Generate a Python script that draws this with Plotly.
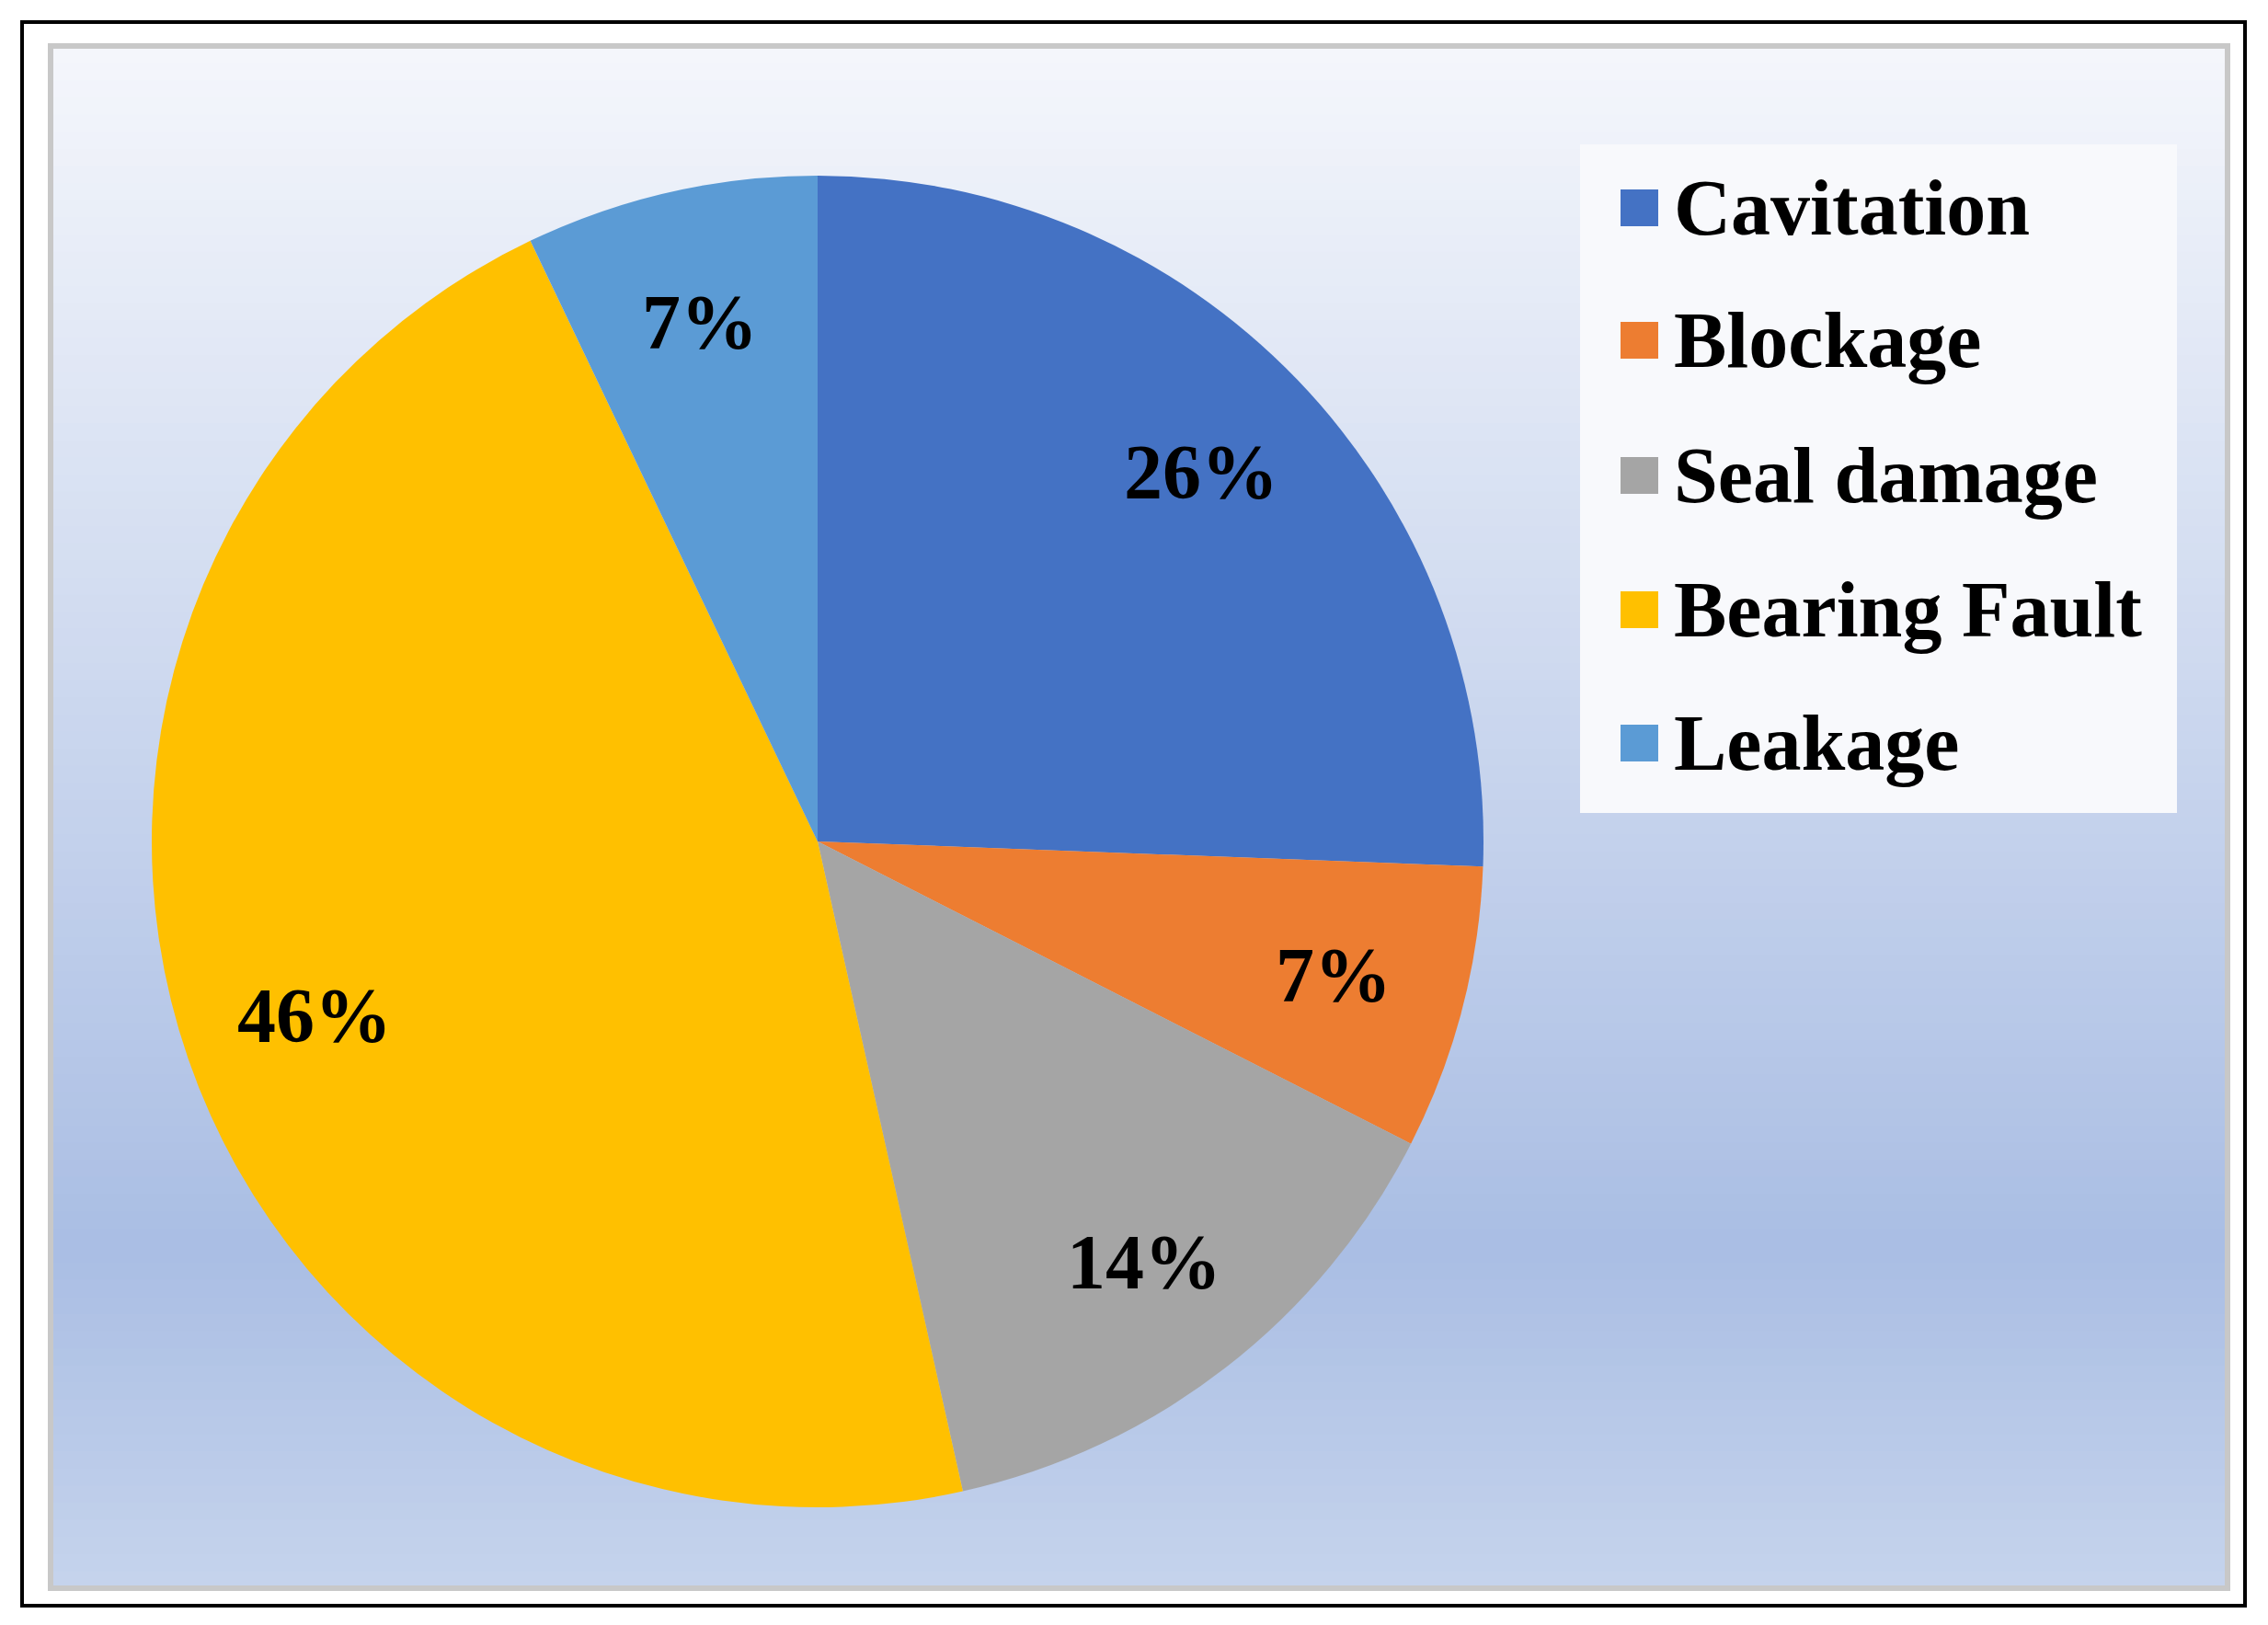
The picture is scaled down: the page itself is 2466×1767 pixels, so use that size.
import math
import plotly.graph_objects as go

labels = ["Cavitation", "Blockage", "Seal damage", "Bearing Fault", "Leakage"]
values = [25.6, 6.9, 14.0, 46.4, 7.1]
pct_text = ["26%", "7%", "14%", "46%", "7%"]
colors = ["#4472c4", "#ed7d31", "#a5a5a5", "#ffc000", "#5b9bd5"]

W, H = 2466, 1767
font = "Liberation Serif"
S = 8  # offset correction

cx, cy, R = 889 - S, 915 - S, 724
fig = go.Figure(go.Pie(
    labels=labels, values=values, sort=False, direction="clockwise", rotation=0,
    marker=dict(colors=colors, line=dict(width=0)),
    textinfo="none",
    domain=dict(x=[(cx - R) / W, (cx + R) / W], y=[1 - (cy + R) / H, 1 - (cy - R) / H]),
    showlegend=False,
))

shapes = []
shapes.append(dict(type="rect", xref="paper", yref="paper", x0=(24-S)/W, x1=(2441-S)/W, y0=1-(1746-S)/H, y1=1-(24-S)/H,
                   line=dict(color="black", width=4), fillcolor="white", layer="below"))
x0, x1, ytop, ybot = 55 - S, 2422 - S, 50 - S, 1727 - S
def lerp(a, b, t):
    return tuple(int(a[i] + (b[i]-a[i])*t) for i in range(3))
top, mid, bot = (245, 247, 252), (170, 190, 228), (198, 212, 237)
n = 90
for i in range(n):
    ya = ytop + (ybot-ytop)*i/n
    yb = ytop + (ybot-ytop)*(i+1)/n + 1
    t = (i+0.5)/n
    c = lerp(top, mid, t/0.78) if t < 0.78 else lerp(mid, bot, (t-0.78)/0.22)
    shapes.append(dict(type="rect", xref="paper", yref="paper", x0=x0/W, x1=x1/W, y0=1-yb/H, y1=1-ya/H,
                       line=dict(width=0), fillcolor="rgb(%d,%d,%d)" % c, layer="below"))
shapes.append(dict(type="rect", xref="paper", yref="paper", x0=x0/W, x1=x1/W, y0=1-ybot/H, y1=1-ytop/H,
                   line=dict(color="#c8c8c8", width=6), layer="below"))
shapes.append(dict(type="rect", xref="paper", yref="paper", x0=(1718-S)/W, x1=(2367-S)/W, y0=1-(884-S)/H, y1=1-(157-S)/H,
                   line=dict(width=0), fillcolor="#f8f9fc", layer="below"))

annotations = []
# percentage labels placed along slice mid-angles
total = sum(values)
cum = 0
for v, t in zip(values, pct_text):
    mid_a = (cum + v / 2) / total * 2 * math.pi
    cum += v
    px = cx + 0.8 * R * math.sin(mid_a)
    py = cy - 0.8 * R * math.cos(mid_a)
    annotations.append(dict(x=px / W, y=1 - py / H, xref="paper", yref="paper", text="<b>%s</b>" % t,
                            showarrow=False, xanchor="center", yanchor="middle",
                            font=dict(family=font, size=84, color="black")))

ycs = [230, 374, 521, 667, 812]
for lab, col, yc in zip(labels, colors, ycs):
    yc -= S + 4
    shapes.append(dict(type="rect", xref="paper", yref="paper", x0=(1762-S)/W, x1=(1803-S)/W,
                       y0=1-(yc+20)/H, y1=1-(yc-20)/H, line=dict(width=0), fillcolor=col))
    annotations.append(dict(x=(1818-S)/W, y=1-yc/H, xref="paper", yref="paper", text="<b>%s</b>" % lab,
                            showarrow=False, xanchor="left", yanchor="middle",
                            font=dict(family=font, size=86, color="black")))

fig.update_layout(width=W, height=H, margin=dict(l=0, r=0, t=0, b=0),
                  paper_bgcolor="white", shapes=shapes, annotations=annotations)
fig.write_html("out.html")
